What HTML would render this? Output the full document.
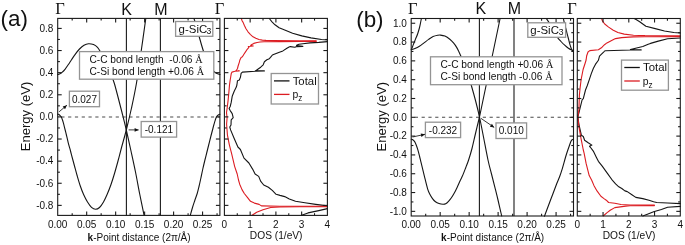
<!DOCTYPE html>
<html><head><meta charset="utf-8"><style>html,body{margin:0;padding:0;background:#fff;}svg{display:block;filter:blur(0.3px);}</style></head><body>
<svg width="685" height="245" viewBox="0 0 685 245">
<rect x="0" y="0" width="685" height="245" fill="#fff"/>
<g style="will-change:transform">
<line x1="61.3" y1="116.9" x2="219.9" y2="116.9" stroke="#4a4a4a" stroke-width="1.05" stroke-dasharray="3.2 3.6"/>
<line x1="126.4" y1="18.4" x2="126.4" y2="215.4" stroke="#1a1a1a" stroke-width="1.1" />
<line x1="160.4" y1="18.4" x2="160.4" y2="215.4" stroke="#1a1a1a" stroke-width="1.1" />
<path d="M57.7,114.2 C57.82,114.22 58.03,114.12 58.4,114.3 C58.77,114.48 59.4,114.8 59.9,115.3 C60.4,115.8 60.98,116.55 61.4,117.3 C61.82,118.05 62.08,118.9 62.4,119.8 C62.72,120.7 62.98,121.57 63.3,122.7 C63.62,123.83 63.97,125.3 64.3,126.6 C64.63,127.9 64.97,129.18 65.3,130.5 C65.63,131.82 65.82,132.48 66.3,134.5 C66.78,136.52 67.52,139.93 68.2,142.6 C68.88,145.27 69.73,148.02 70.4,150.5 C71.07,152.98 71.52,154.92 72.2,157.5 C72.88,160.08 73.68,163 74.5,166 C75.32,169 76.13,172.17 77.1,175.5 C78.07,178.83 79.22,182.83 80.3,186 C81.38,189.17 82.4,191.83 83.6,194.5 C84.8,197.17 86.18,199.87 87.5,202 C88.82,204.13 90.17,206.08 91.5,207.3 C92.83,208.52 94.17,209.27 95.5,209.3 C96.83,209.33 98.17,208.72 99.5,207.5 C100.83,206.28 102.2,204.25 103.5,202 C104.8,199.75 106.05,196.92 107.3,194 C108.55,191.08 109.8,187.92 111,184.5 C112.2,181.08 113.33,177.42 114.5,173.5 C115.67,169.58 116.85,165.25 118,161 C119.15,156.75 120.02,153.17 121.4,148 C122.78,142.83 124.62,136.67 126.3,130 C127.98,123.33 129.8,115.83 131.5,108 C133.2,100.17 134.88,92.5 136.5,83 C138.12,73.5 139.65,61.75 141.2,51 C142.75,40.25 145.03,23.92 145.8,18.5" fill="none" stroke="#151515" stroke-width="1.1" stroke-linejoin="round" stroke-linecap="round" />
<path d="M57.7,74.6 C58,74.52 58.78,74.47 59.5,74.1 C60.22,73.73 61.08,73.2 62,72.4 C62.92,71.6 63.97,70.57 65,69.3 C66.03,68.03 67.12,66.38 68.2,64.8 C69.28,63.22 70.33,61.55 71.5,59.8 C72.67,58.05 73.87,56.1 75.2,54.3 C76.53,52.5 78.03,50.52 79.5,49 C80.97,47.48 82.5,46.08 84,45.2 C85.5,44.32 86.92,43.8 88.5,43.7 C90.08,43.6 92,43.98 93.5,44.6 C95,45.22 96.37,46.23 97.5,47.4 C98.63,48.57 99.22,49.75 100.3,51.6 C101.38,53.45 102.88,56.35 104,58.5 C105.12,60.65 106,62.33 107,64.5 C108,66.67 108.8,68.42 110,71.5 C111.2,74.58 112.87,78.75 114.2,83 C115.53,87.25 116.7,92.08 118,97 C119.3,101.92 120.62,107 122,112.5 C123.38,118 124.8,123.58 126.3,130 C127.8,136.42 129.47,144 131,151 C132.53,158 134.05,164.83 135.5,172 C136.95,179.17 138.27,186.78 139.7,194 C141.13,201.22 143.37,211.75 144.1,215.3" fill="none" stroke="#151515" stroke-width="1.1" stroke-linejoin="round" stroke-linecap="round" />
<path d="M190.3,215.4 C190.67,214.08 191.75,209.98 192.5,207.5 C193.25,205.02 194.02,202.83 194.8,200.5 C195.58,198.17 196.5,195.83 197.2,193.5 C197.9,191.17 198.38,189.08 199,186.5 C199.62,183.92 200.27,180.92 200.9,178 C201.53,175.08 202.15,171.92 202.8,169 C203.45,166.08 204.13,163.25 204.8,160.5 C205.47,157.75 206.13,155.17 206.8,152.5 C207.47,149.83 208.13,147.17 208.8,144.5 C209.47,141.83 210.18,138.92 210.8,136.5 C211.42,134.08 212,131.92 212.5,130 C213,128.08 213.42,126.38 213.8,125 C214.18,123.62 214.48,122.73 214.8,121.7 C215.12,120.67 215.38,119.62 215.7,118.8 C216.02,117.98 216.37,117.37 216.7,116.8 C217.03,116.23 217.28,115.8 217.7,115.4 C218.12,115 218.83,114.6 219.2,114.4 C219.57,114.2 219.78,114.23 219.9,114.2" fill="none" stroke="#151515" stroke-width="1.1" stroke-linejoin="round" stroke-linecap="round" />
<path d="M194,18.5 C194.42,19.92 195.67,24.08 196.5,27 C197.33,29.92 197.83,31.95 199,36 C200.17,40.05 202,46.97 203.5,51.3 C205,55.63 206.58,59.05 208,62 C209.42,64.95 210.75,67.2 212,69 C213.25,70.8 214.18,71.87 215.5,72.8 C216.82,73.73 219.17,74.3 219.9,74.6" fill="none" stroke="#151515" stroke-width="1.1" stroke-linejoin="round" stroke-linecap="round" />
<path d="M269.3,18.5 L272,21.8 L275,24.8 L279.1,27.8 L284.7,30 L292.6,33.3 L301.8,35.9 L311,37.9 L321.5,39.5 L327.4,39.9" fill="none" stroke="#151515" stroke-width="1.1" stroke-linejoin="round" stroke-linecap="round" />
<path d="M327.4,41.6 L318.8,42.4 L310,42.9 L302.9,43.7 L298.9,44.3 L297.1,44.9 L296.5,45.6 L302.9,46.4 L296.6,46.6 L294.9,47.3 L290.3,46.6 L289.1,47 L286.9,48.3 L282.9,50.9 L279.4,52.2 L274.2,54.3 L272.4,55 L270.5,57.4 L269.3,58.7 L266.9,59.7 L264.4,61.7 L263.2,64.8 L260.7,67.2 L257.1,69.7 L255.2,70.9 L264.4,70.9 L255.2,71.2 L242.4,72.1 L241.1,73.4 L240.5,77 L239.3,80.1 L237.5,80.7 L236.9,85 L236.3,87.1 L234.2,91.2 L232.2,96.3 L231.2,102.4 L230.2,106.5 L229.1,108.5 L230.2,110.6 L232.2,113.6 L233.2,117.7 L231.2,119.8 L231,124.9 L229.8,127 L230.6,129.9 L234.2,138.5 L237.9,147 L240.4,149.5 L244,158.1 L248.9,163 L252.6,169.1 L255.1,174 L258.7,176.4 L260.6,181.1 L263.7,185 L268.4,187.3 L272.3,190.4 L276.1,194.3 L280,195.4 L284.7,196.6 L289.3,199 L295.5,201.3 L304.9,202.8 L315.7,204.4 L327.4,205.9" fill="none" stroke="#151515" stroke-width="1.1" stroke-linejoin="round" stroke-linecap="round" />
<path d="M327.4,208.6 L318.8,210.6 L308,212.9 L301.7,215.3" fill="none" stroke="#151515" stroke-width="1.1" stroke-linejoin="round" stroke-linecap="round" />
<path d="M241.3,18.5 L242.2,21 L243.1,22.4 L244.4,25.5 L246,28.8 L248,31.8 L250.5,34.6 L253,36.8 L255.8,38.3 L259,39.5 L262.3,40.1 L266,40.4 L272.8,40.5 L300,40.7 L316.2,40.8" fill="none" stroke="#dc1c22" stroke-width="1.1" stroke-linejoin="round" stroke-linecap="round" />
<path d="M316.2,41.4 L300,41.5 L280,41.6 L264,41.8 L260,42 L257.1,42.5 L253.8,43.4 L251.4,44.7 L250.6,45.6 L253.3,46 L248.3,46.5 L248.9,47.4 L247.2,49.3 L245.5,51.9 L243.9,54.3 L242.4,56.8 L241.1,57.4 L239.9,59.9 L239.3,62.3 L238.1,66 L237.5,68.5 L236.2,70.7 L235,71.2 L239.3,70.9 L235,71.3 L232,72.1 L231.3,73.4 L230.7,77 L230.1,80.7 L229.5,85 L228.9,92 L228.1,100.4 L227.1,108.5 L226.5,112.6 L227.1,117.7 L226.6,124 L227.4,134.8 L229.3,144.6 L231.8,154.4 L234.7,166.6 L237.2,174 L238.5,180 L239.7,184.2 L242,189.6 L244.3,193.5 L247.4,197.4 L250.5,201.3 L254.4,203.1 L259.1,204.4 L261.4,205.9 L280,206.2 L327.4,206.3" fill="none" stroke="#dc1c22" stroke-width="1.1" stroke-linejoin="round" stroke-linecap="round" />
<path d="M327.4,206.7 L300,206.8 L280,207 L270.7,207.5 L263,209.8 L256.7,212.2 L252.1,215.3" fill="none" stroke="#dc1c22" stroke-width="1.1" stroke-linejoin="round" stroke-linecap="round" />
<rect x="57.7" y="18.4" width="162.2" height="197" fill="none" stroke="#1a1a1a" stroke-width="1.1"/>
<rect x="224.4" y="18.4" width="103" height="197" fill="none" stroke="#1a1a1a" stroke-width="1.1"/>
<line x1="57.7" y1="205.38" x2="61.7" y2="205.38" stroke="#1a1a1a" stroke-width="1.1" />
<line x1="219.9" y1="205.38" x2="215.9" y2="205.38" stroke="#1a1a1a" stroke-width="1.1" />
<line x1="57.7" y1="194.32" x2="59.9" y2="194.32" stroke="#1a1a1a" stroke-width="1.1" />
<line x1="219.9" y1="194.32" x2="217.7" y2="194.32" stroke="#1a1a1a" stroke-width="1.1" />
<line x1="57.7" y1="183.26" x2="61.7" y2="183.26" stroke="#1a1a1a" stroke-width="1.1" />
<line x1="219.9" y1="183.26" x2="215.9" y2="183.26" stroke="#1a1a1a" stroke-width="1.1" />
<line x1="57.7" y1="172.2" x2="59.9" y2="172.2" stroke="#1a1a1a" stroke-width="1.1" />
<line x1="219.9" y1="172.2" x2="217.7" y2="172.2" stroke="#1a1a1a" stroke-width="1.1" />
<line x1="57.7" y1="161.14" x2="61.7" y2="161.14" stroke="#1a1a1a" stroke-width="1.1" />
<line x1="219.9" y1="161.14" x2="215.9" y2="161.14" stroke="#1a1a1a" stroke-width="1.1" />
<line x1="57.7" y1="150.08" x2="59.9" y2="150.08" stroke="#1a1a1a" stroke-width="1.1" />
<line x1="219.9" y1="150.08" x2="217.7" y2="150.08" stroke="#1a1a1a" stroke-width="1.1" />
<line x1="57.7" y1="139.02" x2="61.7" y2="139.02" stroke="#1a1a1a" stroke-width="1.1" />
<line x1="219.9" y1="139.02" x2="215.9" y2="139.02" stroke="#1a1a1a" stroke-width="1.1" />
<line x1="57.7" y1="127.96" x2="59.9" y2="127.96" stroke="#1a1a1a" stroke-width="1.1" />
<line x1="219.9" y1="127.96" x2="217.7" y2="127.96" stroke="#1a1a1a" stroke-width="1.1" />
<line x1="57.7" y1="116.9" x2="61.7" y2="116.9" stroke="#1a1a1a" stroke-width="1.1" />
<line x1="219.9" y1="116.9" x2="215.9" y2="116.9" stroke="#1a1a1a" stroke-width="1.1" />
<line x1="57.7" y1="105.84" x2="59.9" y2="105.84" stroke="#1a1a1a" stroke-width="1.1" />
<line x1="219.9" y1="105.84" x2="217.7" y2="105.84" stroke="#1a1a1a" stroke-width="1.1" />
<line x1="57.7" y1="94.78" x2="61.7" y2="94.78" stroke="#1a1a1a" stroke-width="1.1" />
<line x1="219.9" y1="94.78" x2="215.9" y2="94.78" stroke="#1a1a1a" stroke-width="1.1" />
<line x1="57.7" y1="83.72" x2="59.9" y2="83.72" stroke="#1a1a1a" stroke-width="1.1" />
<line x1="219.9" y1="83.72" x2="217.7" y2="83.72" stroke="#1a1a1a" stroke-width="1.1" />
<line x1="57.7" y1="72.66" x2="61.7" y2="72.66" stroke="#1a1a1a" stroke-width="1.1" />
<line x1="219.9" y1="72.66" x2="215.9" y2="72.66" stroke="#1a1a1a" stroke-width="1.1" />
<line x1="57.7" y1="61.6" x2="59.9" y2="61.6" stroke="#1a1a1a" stroke-width="1.1" />
<line x1="219.9" y1="61.6" x2="217.7" y2="61.6" stroke="#1a1a1a" stroke-width="1.1" />
<line x1="57.7" y1="50.54" x2="61.7" y2="50.54" stroke="#1a1a1a" stroke-width="1.1" />
<line x1="219.9" y1="50.54" x2="215.9" y2="50.54" stroke="#1a1a1a" stroke-width="1.1" />
<line x1="57.7" y1="39.48" x2="59.9" y2="39.48" stroke="#1a1a1a" stroke-width="1.1" />
<line x1="219.9" y1="39.48" x2="217.7" y2="39.48" stroke="#1a1a1a" stroke-width="1.1" />
<line x1="57.7" y1="28.42" x2="61.7" y2="28.42" stroke="#1a1a1a" stroke-width="1.1" />
<line x1="219.9" y1="28.42" x2="215.9" y2="28.42" stroke="#1a1a1a" stroke-width="1.1" />
<line x1="224.4" y1="205.38" x2="228.4" y2="205.38" stroke="#1a1a1a" stroke-width="1.1" />
<line x1="327.4" y1="205.38" x2="323.4" y2="205.38" stroke="#1a1a1a" stroke-width="1.1" />
<line x1="224.4" y1="194.32" x2="226.6" y2="194.32" stroke="#1a1a1a" stroke-width="1.1" />
<line x1="327.4" y1="194.32" x2="325.2" y2="194.32" stroke="#1a1a1a" stroke-width="1.1" />
<line x1="224.4" y1="183.26" x2="228.4" y2="183.26" stroke="#1a1a1a" stroke-width="1.1" />
<line x1="327.4" y1="183.26" x2="323.4" y2="183.26" stroke="#1a1a1a" stroke-width="1.1" />
<line x1="224.4" y1="172.2" x2="226.6" y2="172.2" stroke="#1a1a1a" stroke-width="1.1" />
<line x1="327.4" y1="172.2" x2="325.2" y2="172.2" stroke="#1a1a1a" stroke-width="1.1" />
<line x1="224.4" y1="161.14" x2="228.4" y2="161.14" stroke="#1a1a1a" stroke-width="1.1" />
<line x1="327.4" y1="161.14" x2="323.4" y2="161.14" stroke="#1a1a1a" stroke-width="1.1" />
<line x1="224.4" y1="150.08" x2="226.6" y2="150.08" stroke="#1a1a1a" stroke-width="1.1" />
<line x1="327.4" y1="150.08" x2="325.2" y2="150.08" stroke="#1a1a1a" stroke-width="1.1" />
<line x1="224.4" y1="139.02" x2="228.4" y2="139.02" stroke="#1a1a1a" stroke-width="1.1" />
<line x1="327.4" y1="139.02" x2="323.4" y2="139.02" stroke="#1a1a1a" stroke-width="1.1" />
<line x1="224.4" y1="127.96" x2="226.6" y2="127.96" stroke="#1a1a1a" stroke-width="1.1" />
<line x1="327.4" y1="127.96" x2="325.2" y2="127.96" stroke="#1a1a1a" stroke-width="1.1" />
<line x1="224.4" y1="116.9" x2="228.4" y2="116.9" stroke="#1a1a1a" stroke-width="1.1" />
<line x1="327.4" y1="116.9" x2="323.4" y2="116.9" stroke="#1a1a1a" stroke-width="1.1" />
<line x1="224.4" y1="105.84" x2="226.6" y2="105.84" stroke="#1a1a1a" stroke-width="1.1" />
<line x1="327.4" y1="105.84" x2="325.2" y2="105.84" stroke="#1a1a1a" stroke-width="1.1" />
<line x1="224.4" y1="94.78" x2="228.4" y2="94.78" stroke="#1a1a1a" stroke-width="1.1" />
<line x1="327.4" y1="94.78" x2="323.4" y2="94.78" stroke="#1a1a1a" stroke-width="1.1" />
<line x1="224.4" y1="83.72" x2="226.6" y2="83.72" stroke="#1a1a1a" stroke-width="1.1" />
<line x1="327.4" y1="83.72" x2="325.2" y2="83.72" stroke="#1a1a1a" stroke-width="1.1" />
<line x1="224.4" y1="72.66" x2="228.4" y2="72.66" stroke="#1a1a1a" stroke-width="1.1" />
<line x1="327.4" y1="72.66" x2="323.4" y2="72.66" stroke="#1a1a1a" stroke-width="1.1" />
<line x1="224.4" y1="61.6" x2="226.6" y2="61.6" stroke="#1a1a1a" stroke-width="1.1" />
<line x1="327.4" y1="61.6" x2="325.2" y2="61.6" stroke="#1a1a1a" stroke-width="1.1" />
<line x1="224.4" y1="50.54" x2="228.4" y2="50.54" stroke="#1a1a1a" stroke-width="1.1" />
<line x1="327.4" y1="50.54" x2="323.4" y2="50.54" stroke="#1a1a1a" stroke-width="1.1" />
<line x1="224.4" y1="39.48" x2="226.6" y2="39.48" stroke="#1a1a1a" stroke-width="1.1" />
<line x1="327.4" y1="39.48" x2="325.2" y2="39.48" stroke="#1a1a1a" stroke-width="1.1" />
<line x1="224.4" y1="28.42" x2="228.4" y2="28.42" stroke="#1a1a1a" stroke-width="1.1" />
<line x1="327.4" y1="28.42" x2="323.4" y2="28.42" stroke="#1a1a1a" stroke-width="1.1" />
<line x1="86.68" y1="215.4" x2="86.68" y2="211.4" stroke="#1a1a1a" stroke-width="1.1" />
<line x1="86.68" y1="18.4" x2="86.68" y2="22.4" stroke="#1a1a1a" stroke-width="1.1" />
<line x1="115.65" y1="215.4" x2="115.65" y2="211.4" stroke="#1a1a1a" stroke-width="1.1" />
<line x1="115.65" y1="18.4" x2="115.65" y2="22.4" stroke="#1a1a1a" stroke-width="1.1" />
<line x1="144.62" y1="215.4" x2="144.62" y2="211.4" stroke="#1a1a1a" stroke-width="1.1" />
<line x1="144.62" y1="18.4" x2="144.62" y2="22.4" stroke="#1a1a1a" stroke-width="1.1" />
<line x1="173.6" y1="215.4" x2="173.6" y2="211.4" stroke="#1a1a1a" stroke-width="1.1" />
<line x1="173.6" y1="18.4" x2="173.6" y2="22.4" stroke="#1a1a1a" stroke-width="1.1" />
<line x1="202.57" y1="215.4" x2="202.57" y2="211.4" stroke="#1a1a1a" stroke-width="1.1" />
<line x1="202.57" y1="18.4" x2="202.57" y2="22.4" stroke="#1a1a1a" stroke-width="1.1" />
<line x1="72.19" y1="215.4" x2="72.19" y2="213.2" stroke="#1a1a1a" stroke-width="1.1" />
<line x1="72.19" y1="18.4" x2="72.19" y2="20.6" stroke="#1a1a1a" stroke-width="1.1" />
<line x1="101.16" y1="215.4" x2="101.16" y2="213.2" stroke="#1a1a1a" stroke-width="1.1" />
<line x1="101.16" y1="18.4" x2="101.16" y2="20.6" stroke="#1a1a1a" stroke-width="1.1" />
<line x1="130.14" y1="215.4" x2="130.14" y2="213.2" stroke="#1a1a1a" stroke-width="1.1" />
<line x1="130.14" y1="18.4" x2="130.14" y2="20.6" stroke="#1a1a1a" stroke-width="1.1" />
<line x1="159.11" y1="215.4" x2="159.11" y2="213.2" stroke="#1a1a1a" stroke-width="1.1" />
<line x1="159.11" y1="18.4" x2="159.11" y2="20.6" stroke="#1a1a1a" stroke-width="1.1" />
<line x1="188.09" y1="215.4" x2="188.09" y2="213.2" stroke="#1a1a1a" stroke-width="1.1" />
<line x1="188.09" y1="18.4" x2="188.09" y2="20.6" stroke="#1a1a1a" stroke-width="1.1" />
<line x1="217.06" y1="215.4" x2="217.06" y2="213.2" stroke="#1a1a1a" stroke-width="1.1" />
<line x1="217.06" y1="18.4" x2="217.06" y2="20.6" stroke="#1a1a1a" stroke-width="1.1" />
<line x1="250.15" y1="215.4" x2="250.15" y2="211.4" stroke="#1a1a1a" stroke-width="1.1" />
<line x1="250.15" y1="18.4" x2="250.15" y2="22.4" stroke="#1a1a1a" stroke-width="1.1" />
<line x1="275.9" y1="215.4" x2="275.9" y2="211.4" stroke="#1a1a1a" stroke-width="1.1" />
<line x1="275.9" y1="18.4" x2="275.9" y2="22.4" stroke="#1a1a1a" stroke-width="1.1" />
<line x1="301.65" y1="215.4" x2="301.65" y2="211.4" stroke="#1a1a1a" stroke-width="1.1" />
<line x1="301.65" y1="18.4" x2="301.65" y2="22.4" stroke="#1a1a1a" stroke-width="1.1" />
<line x1="237.28" y1="215.4" x2="237.28" y2="213.2" stroke="#1a1a1a" stroke-width="1.1" />
<line x1="237.28" y1="18.4" x2="237.28" y2="20.6" stroke="#1a1a1a" stroke-width="1.1" />
<line x1="263.02" y1="215.4" x2="263.02" y2="213.2" stroke="#1a1a1a" stroke-width="1.1" />
<line x1="263.02" y1="18.4" x2="263.02" y2="20.6" stroke="#1a1a1a" stroke-width="1.1" />
<line x1="288.77" y1="215.4" x2="288.77" y2="213.2" stroke="#1a1a1a" stroke-width="1.1" />
<line x1="288.77" y1="18.4" x2="288.77" y2="20.6" stroke="#1a1a1a" stroke-width="1.1" />
<line x1="314.52" y1="215.4" x2="314.52" y2="213.2" stroke="#1a1a1a" stroke-width="1.1" />
<line x1="314.52" y1="18.4" x2="314.52" y2="20.6" stroke="#1a1a1a" stroke-width="1.1" />
<text x="53.4" y="208.68" font-size="10" text-anchor="end" font-family='"Liberation Sans", sans-serif' fill="#111" >-0.8</text>
<text x="53.4" y="186.56" font-size="10" text-anchor="end" font-family='"Liberation Sans", sans-serif' fill="#111" >-0.6</text>
<text x="53.4" y="164.44" font-size="10" text-anchor="end" font-family='"Liberation Sans", sans-serif' fill="#111" >-0.4</text>
<text x="53.4" y="142.32" font-size="10" text-anchor="end" font-family='"Liberation Sans", sans-serif' fill="#111" >-0.2</text>
<text x="53.4" y="120.2" font-size="10" text-anchor="end" font-family='"Liberation Sans", sans-serif' fill="#111" >0.0</text>
<text x="53.4" y="98.08" font-size="10" text-anchor="end" font-family='"Liberation Sans", sans-serif' fill="#111" >0.2</text>
<text x="53.4" y="75.96" font-size="10" text-anchor="end" font-family='"Liberation Sans", sans-serif' fill="#111" >0.4</text>
<text x="53.4" y="53.84" font-size="10" text-anchor="end" font-family='"Liberation Sans", sans-serif' fill="#111" >0.6</text>
<text x="53.4" y="31.72" font-size="10" text-anchor="end" font-family='"Liberation Sans", sans-serif' fill="#111" >0.8</text>
<text x="57.7" y="227.9" font-size="10" text-anchor="middle" font-family='"Liberation Sans", sans-serif' fill="#111" >0.00</text>
<text x="86.68" y="227.9" font-size="10" text-anchor="middle" font-family='"Liberation Sans", sans-serif' fill="#111" >0.05</text>
<text x="115.65" y="227.9" font-size="10" text-anchor="middle" font-family='"Liberation Sans", sans-serif' fill="#111" >0.10</text>
<text x="144.62" y="227.9" font-size="10" text-anchor="middle" font-family='"Liberation Sans", sans-serif' fill="#111" >0.15</text>
<text x="173.6" y="227.9" font-size="10" text-anchor="middle" font-family='"Liberation Sans", sans-serif' fill="#111" >0.20</text>
<text x="202.57" y="227.9" font-size="10" text-anchor="middle" font-family='"Liberation Sans", sans-serif' fill="#111" >0.25</text>
<text x="224.4" y="227.9" font-size="10" text-anchor="middle" font-family='"Liberation Sans", sans-serif' fill="#111" >0</text>
<text x="250.15" y="227.9" font-size="10" text-anchor="middle" font-family='"Liberation Sans", sans-serif' fill="#111" >1</text>
<text x="275.9" y="227.9" font-size="10" text-anchor="middle" font-family='"Liberation Sans", sans-serif' fill="#111" >2</text>
<text x="301.65" y="227.9" font-size="10" text-anchor="middle" font-family='"Liberation Sans", sans-serif' fill="#111" >3</text>
<text x="327.4" y="227.9" font-size="10" text-anchor="middle" font-family='"Liberation Sans", sans-serif' fill="#111" >4</text>
<text x="139.1" y="240.5" font-size="10" text-anchor="middle" font-family='"Liberation Sans", sans-serif' fill="#111"><tspan font-weight="bold">k</tspan>-Point distance (2&#960;/&#197;)</text>
<text x="276.2" y="238.9" font-size="10.2" text-anchor="middle" font-family='"Liberation Sans", sans-serif' fill="#111" >DOS (1/eV)</text>
<text transform="translate(30.2,116.4) rotate(-90)" font-size="12" text-anchor="middle" textLength="69.5" lengthAdjust="spacingAndGlyphs" font-family='"Liberation Sans", sans-serif' fill="#111">Energy (eV)</text>
<text x="0.6" y="25.6" font-size="22.4" text-anchor="start" font-family='"Liberation Sans", sans-serif' fill="#111" >(a)</text>
<text x="59.9" y="13.9" font-size="16.5" text-anchor="middle" font-family='"Liberation Serif", serif' fill="#111" >&#915;</text>
<text x="219.6" y="13.9" font-size="16.5" text-anchor="middle" font-family='"Liberation Serif", serif' fill="#111" >&#915;</text>
<text x="126.6" y="14.5" font-size="16" text-anchor="middle" font-family='"Liberation Sans", sans-serif' fill="#111" >K</text>
<text x="160.9" y="14.5" font-size="16" text-anchor="middle" font-family='"Liberation Sans", sans-serif' fill="#111" >M</text>
<rect x="79.5" y="51.6" width="134.3" height="27.6" fill="#fff" stroke="#949494" stroke-width="1.3" />
<text x="89.4" y="62.6" font-size="10.2" font-family='"Liberation Sans", sans-serif' fill="#111" xml:space="preserve">C-C bond length  -0.06 <tspan font-family='"Liberation Serif", serif'>&#197;</tspan></text>
<text x="89.4" y="75" font-size="10.2" font-family='"Liberation Sans", sans-serif' fill="#111" xml:space="preserve">C-Si bond length +0.06 <tspan font-family='"Liberation Serif", serif'>&#197;</tspan></text>
<rect x="69.4" y="91.2" width="30.1" height="15.5" fill="#fff" stroke="#949494" stroke-width="1.3" />
<text x="84.45" y="102.55" font-size="10" text-anchor="middle" font-family='"Liberation Sans", sans-serif' fill="#111">0.027</text>
<rect x="141.2" y="121.5" width="35.4" height="15.6" fill="#fff" stroke="#949494" stroke-width="1.3" />
<text x="158.9" y="132.9" font-size="10" text-anchor="middle" font-family='"Liberation Sans", sans-serif' fill="#111">-0.121</text>
<rect x="175.6" y="21.5" width="37.2" height="14.8" fill="#fff" stroke="#949494" stroke-width="1.3" />
<text x="178.6" y="32.9" font-size="10.3" textLength="28.6" lengthAdjust="spacingAndGlyphs" font-family='"Liberation Sans", sans-serif' fill="#111">g-SiC</text>
<text x="206.6" y="34.4" font-size="8.6" font-family='"Liberation Sans", sans-serif' fill="#111">3</text>
<line x1="59.1" y1="111.8" x2="66.9" y2="105.2" stroke="#222" stroke-width="0.9" />
<path d="M66.9,105.2 L65.01,109.16 L62.68,106.41 Z" fill="#111"/>
<line x1="128.6" y1="129.9" x2="138.6" y2="129.9" stroke="#222" stroke-width="0.9" />
<path d="M138.6,129.9 L134.6,131.7 L134.6,128.1 Z" fill="#111"/>
<rect x="271.2" y="73.5" width="47.3" height="30.5" fill="#fff" stroke="#949494" stroke-width="1.3" />
<line x1="274" y1="80.9" x2="289.5" y2="80.9" stroke="#111" stroke-width="1.3" />
<line x1="274" y1="94.4" x2="289.5" y2="94.4" stroke="#dc1c22" stroke-width="1.3" />
<text x="292.7" y="84.6" font-size="10.4" text-anchor="start" font-family='"Liberation Sans", sans-serif' fill="#111" textLength="24" lengthAdjust="spacingAndGlyphs">Total</text>
<text x="292.4" y="98.3" font-size="10.4" font-family='"Liberation Sans", sans-serif' fill="#111">p<tspan font-size="8.2" dy="3.1">z</tspan></text>
<line x1="414.8" y1="117.3" x2="573.5" y2="117.3" stroke="#4a4a4a" stroke-width="1.05" stroke-dasharray="3.2 3.6"/>
<line x1="479.4" y1="18.5" x2="479.4" y2="216" stroke="#1a1a1a" stroke-width="1.1" />
<line x1="514" y1="18.5" x2="514" y2="216" stroke="#1a1a1a" stroke-width="1.1" />
<path d="M411.3,49.6 C411.47,49.23 412,48.15 412.3,47.4 C412.6,46.65 412.58,46.43 413.1,45.1 C413.62,43.77 414.63,41.3 415.4,39.4 C416.17,37.5 417.03,35.6 417.7,33.7 C418.37,31.8 418.93,29.78 419.4,28 C419.87,26.22 420.17,24.58 420.5,23 C420.83,21.42 421.25,19.25 421.4,18.5" fill="none" stroke="#151515" stroke-width="1.1" stroke-linejoin="round" stroke-linecap="round" />
<path d="M411.3,49.7 C411.9,49.52 413.55,49.17 414.9,48.6 C416.25,48.03 417.88,47.25 419.4,46.3 C420.92,45.35 422.47,44.05 424,42.9 C425.53,41.75 427.08,40.45 428.6,39.4 C430.12,38.35 431.58,37.28 433.1,36.6 C434.62,35.92 436.47,35.55 437.7,35.3 C438.93,35.05 439.3,34.97 440.5,35.1 C441.7,35.23 443.35,35.42 444.9,36.1 C446.45,36.78 448.37,38.07 449.8,39.2 C451.23,40.33 452.38,41.58 453.5,42.9 C454.62,44.22 455.58,45.58 456.5,47.1 C457.42,48.62 458.28,50.52 459,52 C459.72,53.48 459.97,54 460.8,56 C461.63,58 462.88,61.17 464,64 C465.12,66.83 466.3,69.5 467.5,73 C468.7,76.5 469.87,80.42 471.2,85 C472.53,89.58 474.12,95.17 475.5,100.5 C476.88,105.83 478.17,110.92 479.5,117 C480.83,123.08 482.08,129.83 483.5,137 C484.92,144.17 486.67,153.83 488,160 C489.33,166.17 490.35,169.43 491.5,174 C492.65,178.57 493.82,183.07 494.9,187.4 C495.98,191.73 496.87,195.23 498,200 C499.13,204.77 501.08,213.33 501.7,216" fill="none" stroke="#151515" stroke-width="1.1" stroke-linejoin="round" stroke-linecap="round" />
<path d="M411.3,139.2 C411.55,139.28 412.27,139.33 412.8,139.7 C413.33,140.07 413.93,140.52 414.5,141.4 C415.07,142.28 415.65,143.63 416.2,145 C416.75,146.37 417.25,147.77 417.8,149.6 C418.35,151.43 418.95,153.82 419.5,156 C420.05,158.18 420.3,159.4 421.1,162.7 C421.9,166 423.22,171.45 424.3,175.8 C425.38,180.15 426.65,185.68 427.6,188.8 C428.55,191.92 429.18,192.87 430,194.5 C430.82,196.13 431.58,197.38 432.5,198.6 C433.42,199.82 434.42,200.97 435.5,201.8 C436.58,202.63 437.75,203.18 439,203.6 C440.25,204.02 441.88,204.27 443,204.3 C444.12,204.33 444.78,204.3 445.7,203.8 C446.62,203.3 447.55,202.32 448.5,201.3 C449.45,200.28 450.43,199.08 451.4,197.7 C452.37,196.32 453.35,194.72 454.3,193 C455.25,191.28 456.15,189.4 457.1,187.4 C458.05,185.4 459.03,183.08 460,181 C460.97,178.92 461.93,177.15 462.9,174.9 C463.87,172.65 464.85,169.98 465.8,167.5 C466.75,165.02 467.57,163.17 468.6,160 C469.63,156.83 470.85,152.92 472,148.5 C473.15,144.08 474.25,138.75 475.5,133.5 C476.75,128.25 478.83,119.75 479.5,117" fill="none" stroke="#151515" stroke-width="1.1" stroke-linejoin="round" stroke-linecap="round" />
<path d="M479.5,117 L500.1,18.5" fill="none" stroke="#151515" stroke-width="1.1" stroke-linejoin="round" stroke-linecap="round" />
<path d="M544.5,216 C544.6,215.75 543.98,217.45 545.1,214.5 C546.22,211.55 549.28,203.38 551.2,198.3 C553.12,193.22 555.22,187.55 556.6,184 C557.98,180.45 558.6,179.4 559.5,177 C560.4,174.6 560.98,172.93 562,169.6 C563.02,166.27 564.68,160.1 565.6,157 C566.52,153.9 566.9,152.8 567.5,151 C568.1,149.2 568.62,147.82 569.2,146.2 C569.78,144.58 570.48,142.4 571,141.3 C571.52,140.2 571.88,139.97 572.3,139.6 C572.72,139.23 573.3,139.18 573.5,139.1" fill="none" stroke="#151515" stroke-width="1.1" stroke-linejoin="round" stroke-linecap="round" />
<path d="M546.3,18.5 C546.73,19.13 547.78,20.38 548.9,22.3 C550.02,24.22 551.6,27.52 553,30 C554.4,32.48 555.97,35.28 557.3,37.2 C558.63,39.12 559.77,40.17 561,41.5 C562.23,42.83 563.47,44.07 564.7,45.2 C565.93,46.33 567.22,47.48 568.4,48.3 C569.58,49.12 570.95,49.73 571.8,50.1 C572.65,50.47 573.22,50.43 573.5,50.5" fill="none" stroke="#151515" stroke-width="1.1" stroke-linejoin="round" stroke-linecap="round" />
<path d="M563.4,18.5 C563.58,19.33 564.08,21.8 564.5,23.5 C564.92,25.2 565.47,27.02 565.9,28.7 C566.33,30.38 566.68,31.97 567.1,33.6 C567.52,35.23 567.98,36.87 568.4,38.5 C568.82,40.13 569.1,41.67 569.6,43.4 C570.1,45.13 570.95,47.73 571.4,48.9 C571.85,50.07 571.95,50.12 572.3,50.4 C572.65,50.68 573.3,50.57 573.5,50.6" fill="none" stroke="#151515" stroke-width="1.1" stroke-linejoin="round" stroke-linecap="round" />
<path d="M634.2,18.5 L636.5,19.8 L639.7,21.7 L645.9,26.3 L655.2,28.6 L664.5,31 L673.8,32.5 L680.3,33" fill="none" stroke="#151515" stroke-width="1.1" stroke-linejoin="round" stroke-linecap="round" />
<path d="M680.3,38 L667.6,38.7 L658.3,41.1 L650.5,43.4 L648.2,44.2 L642.8,46.5 L636.6,48 L630.4,49.6 L641.2,49.9 L630.4,50 L605.5,50.8 L604.6,51 L603.6,52.1 L601.5,54.2 L599.5,56.2 L598.4,60.3 L595.4,64.4 L593.3,68.5 L591.3,73.6 L589.3,79.7 L587.2,85.8 L585.5,90 L583.3,98.6 L582.1,99.8 L579.7,109.6 L577.9,116.9 L578.9,124.3 L581.4,135.3 L583.3,136.5 L584.6,140.2 L588.2,142.7 L591.9,145.1 L589.5,146.3 L590.2,147 L593.3,151.1 L596.3,157.2 L598.4,161.3 L602.4,166.4 L607.6,173.6 L612.7,180.7 L615.6,183.9 L618.8,186.8 L621.8,188.5 L624.9,190.9 L627.3,191.6 L631.9,194.7 L635.8,197.4 L642.8,198.6 L649,200.2 L653.6,201.7 L656.7,202.5 L667.6,203 L680.3,203.6" fill="none" stroke="#151515" stroke-width="1.1" stroke-linejoin="round" stroke-linecap="round" />
<path d="M680.3,206.4 L667.6,207.2 L661.4,209.5 L653.6,211.8 L647.4,214.2 L642.8,216" fill="none" stroke="#151515" stroke-width="1.1" stroke-linejoin="round" stroke-linecap="round" />
<path d="M601.6,18.5 L602.4,20.9 L604.7,24 L608.6,27.1 L613.3,30.2 L617.9,32.5 L624.2,34.1 L633.5,35.2 L645,35.6 L680.3,35.7" fill="none" stroke="#dc1c22" stroke-width="1.1" stroke-linejoin="round" stroke-linecap="round" />
<path d="M680.3,36.6 L645,36.8 L633.5,36.9 L628.9,37.1 L621.6,37.6 L615.5,38.6 L613.1,39.8 L606.9,42.9 L604.5,44.7 L601.4,47.8 L598.4,49.8 L589.8,50.6 L588,52 L586.7,55.7 L586.1,60 L585.2,63 L583.1,69.5 L581.1,79.7 L580.1,87.9 L579.4,95 L578.9,109.6 L577.9,116.9 L578.9,126.7 L580.9,137.8 L583.3,150 L584.1,153.2 L586.1,163.4 L589.2,175.6 L591.6,180 L593.9,185.4 L597,190.9 L600.9,196.3 L604,198.6 L606.3,200.2 L608.6,202.5 L614.8,203.3 L621,204.5 L630,205 L654.4,205.1" fill="none" stroke="#dc1c22" stroke-width="1.1" stroke-linejoin="round" stroke-linecap="round" />
<path d="M654.4,205.6 L630,205.8 L625.7,206.1 L614.8,207.6 L610.2,210.3 L607.1,212.6 L603.2,216" fill="none" stroke="#dc1c22" stroke-width="1.1" stroke-linejoin="round" stroke-linecap="round" />
<rect x="411.2" y="18.5" width="162.3" height="197.5" fill="none" stroke="#1a1a1a" stroke-width="1.1"/>
<rect x="577.3" y="18.5" width="103" height="197.5" fill="none" stroke="#1a1a1a" stroke-width="1.1"/>
<line x1="411.2" y1="211.35" x2="415.2" y2="211.35" stroke="#1a1a1a" stroke-width="1.1" />
<line x1="573.5" y1="211.35" x2="569.5" y2="211.35" stroke="#1a1a1a" stroke-width="1.1" />
<line x1="411.2" y1="201.94" x2="413.4" y2="201.94" stroke="#1a1a1a" stroke-width="1.1" />
<line x1="573.5" y1="201.94" x2="571.3" y2="201.94" stroke="#1a1a1a" stroke-width="1.1" />
<line x1="411.2" y1="192.54" x2="415.2" y2="192.54" stroke="#1a1a1a" stroke-width="1.1" />
<line x1="573.5" y1="192.54" x2="569.5" y2="192.54" stroke="#1a1a1a" stroke-width="1.1" />
<line x1="411.2" y1="183.13" x2="413.4" y2="183.13" stroke="#1a1a1a" stroke-width="1.1" />
<line x1="573.5" y1="183.13" x2="571.3" y2="183.13" stroke="#1a1a1a" stroke-width="1.1" />
<line x1="411.2" y1="173.73" x2="415.2" y2="173.73" stroke="#1a1a1a" stroke-width="1.1" />
<line x1="573.5" y1="173.73" x2="569.5" y2="173.73" stroke="#1a1a1a" stroke-width="1.1" />
<line x1="411.2" y1="164.32" x2="413.4" y2="164.32" stroke="#1a1a1a" stroke-width="1.1" />
<line x1="573.5" y1="164.32" x2="571.3" y2="164.32" stroke="#1a1a1a" stroke-width="1.1" />
<line x1="411.2" y1="154.92" x2="415.2" y2="154.92" stroke="#1a1a1a" stroke-width="1.1" />
<line x1="573.5" y1="154.92" x2="569.5" y2="154.92" stroke="#1a1a1a" stroke-width="1.1" />
<line x1="411.2" y1="145.51" x2="413.4" y2="145.51" stroke="#1a1a1a" stroke-width="1.1" />
<line x1="573.5" y1="145.51" x2="571.3" y2="145.51" stroke="#1a1a1a" stroke-width="1.1" />
<line x1="411.2" y1="136.11" x2="415.2" y2="136.11" stroke="#1a1a1a" stroke-width="1.1" />
<line x1="573.5" y1="136.11" x2="569.5" y2="136.11" stroke="#1a1a1a" stroke-width="1.1" />
<line x1="411.2" y1="126.7" x2="413.4" y2="126.7" stroke="#1a1a1a" stroke-width="1.1" />
<line x1="573.5" y1="126.7" x2="571.3" y2="126.7" stroke="#1a1a1a" stroke-width="1.1" />
<line x1="411.2" y1="117.3" x2="415.2" y2="117.3" stroke="#1a1a1a" stroke-width="1.1" />
<line x1="573.5" y1="117.3" x2="569.5" y2="117.3" stroke="#1a1a1a" stroke-width="1.1" />
<line x1="411.2" y1="107.89" x2="413.4" y2="107.89" stroke="#1a1a1a" stroke-width="1.1" />
<line x1="573.5" y1="107.89" x2="571.3" y2="107.89" stroke="#1a1a1a" stroke-width="1.1" />
<line x1="411.2" y1="98.49" x2="415.2" y2="98.49" stroke="#1a1a1a" stroke-width="1.1" />
<line x1="573.5" y1="98.49" x2="569.5" y2="98.49" stroke="#1a1a1a" stroke-width="1.1" />
<line x1="411.2" y1="89.08" x2="413.4" y2="89.08" stroke="#1a1a1a" stroke-width="1.1" />
<line x1="573.5" y1="89.08" x2="571.3" y2="89.08" stroke="#1a1a1a" stroke-width="1.1" />
<line x1="411.2" y1="79.68" x2="415.2" y2="79.68" stroke="#1a1a1a" stroke-width="1.1" />
<line x1="573.5" y1="79.68" x2="569.5" y2="79.68" stroke="#1a1a1a" stroke-width="1.1" />
<line x1="411.2" y1="70.28" x2="413.4" y2="70.28" stroke="#1a1a1a" stroke-width="1.1" />
<line x1="573.5" y1="70.28" x2="571.3" y2="70.28" stroke="#1a1a1a" stroke-width="1.1" />
<line x1="411.2" y1="60.87" x2="415.2" y2="60.87" stroke="#1a1a1a" stroke-width="1.1" />
<line x1="573.5" y1="60.87" x2="569.5" y2="60.87" stroke="#1a1a1a" stroke-width="1.1" />
<line x1="411.2" y1="51.46" x2="413.4" y2="51.46" stroke="#1a1a1a" stroke-width="1.1" />
<line x1="573.5" y1="51.46" x2="571.3" y2="51.46" stroke="#1a1a1a" stroke-width="1.1" />
<line x1="411.2" y1="42.06" x2="415.2" y2="42.06" stroke="#1a1a1a" stroke-width="1.1" />
<line x1="573.5" y1="42.06" x2="569.5" y2="42.06" stroke="#1a1a1a" stroke-width="1.1" />
<line x1="411.2" y1="32.66" x2="413.4" y2="32.66" stroke="#1a1a1a" stroke-width="1.1" />
<line x1="573.5" y1="32.66" x2="571.3" y2="32.66" stroke="#1a1a1a" stroke-width="1.1" />
<line x1="411.2" y1="23.25" x2="415.2" y2="23.25" stroke="#1a1a1a" stroke-width="1.1" />
<line x1="573.5" y1="23.25" x2="569.5" y2="23.25" stroke="#1a1a1a" stroke-width="1.1" />
<line x1="577.3" y1="211.35" x2="581.3" y2="211.35" stroke="#1a1a1a" stroke-width="1.1" />
<line x1="680.3" y1="211.35" x2="676.3" y2="211.35" stroke="#1a1a1a" stroke-width="1.1" />
<line x1="577.3" y1="201.94" x2="579.5" y2="201.94" stroke="#1a1a1a" stroke-width="1.1" />
<line x1="680.3" y1="201.94" x2="678.1" y2="201.94" stroke="#1a1a1a" stroke-width="1.1" />
<line x1="577.3" y1="192.54" x2="581.3" y2="192.54" stroke="#1a1a1a" stroke-width="1.1" />
<line x1="680.3" y1="192.54" x2="676.3" y2="192.54" stroke="#1a1a1a" stroke-width="1.1" />
<line x1="577.3" y1="183.13" x2="579.5" y2="183.13" stroke="#1a1a1a" stroke-width="1.1" />
<line x1="680.3" y1="183.13" x2="678.1" y2="183.13" stroke="#1a1a1a" stroke-width="1.1" />
<line x1="577.3" y1="173.73" x2="581.3" y2="173.73" stroke="#1a1a1a" stroke-width="1.1" />
<line x1="680.3" y1="173.73" x2="676.3" y2="173.73" stroke="#1a1a1a" stroke-width="1.1" />
<line x1="577.3" y1="164.32" x2="579.5" y2="164.32" stroke="#1a1a1a" stroke-width="1.1" />
<line x1="680.3" y1="164.32" x2="678.1" y2="164.32" stroke="#1a1a1a" stroke-width="1.1" />
<line x1="577.3" y1="154.92" x2="581.3" y2="154.92" stroke="#1a1a1a" stroke-width="1.1" />
<line x1="680.3" y1="154.92" x2="676.3" y2="154.92" stroke="#1a1a1a" stroke-width="1.1" />
<line x1="577.3" y1="145.51" x2="579.5" y2="145.51" stroke="#1a1a1a" stroke-width="1.1" />
<line x1="680.3" y1="145.51" x2="678.1" y2="145.51" stroke="#1a1a1a" stroke-width="1.1" />
<line x1="577.3" y1="136.11" x2="581.3" y2="136.11" stroke="#1a1a1a" stroke-width="1.1" />
<line x1="680.3" y1="136.11" x2="676.3" y2="136.11" stroke="#1a1a1a" stroke-width="1.1" />
<line x1="577.3" y1="126.7" x2="579.5" y2="126.7" stroke="#1a1a1a" stroke-width="1.1" />
<line x1="680.3" y1="126.7" x2="678.1" y2="126.7" stroke="#1a1a1a" stroke-width="1.1" />
<line x1="577.3" y1="117.3" x2="581.3" y2="117.3" stroke="#1a1a1a" stroke-width="1.1" />
<line x1="680.3" y1="117.3" x2="676.3" y2="117.3" stroke="#1a1a1a" stroke-width="1.1" />
<line x1="577.3" y1="107.89" x2="579.5" y2="107.89" stroke="#1a1a1a" stroke-width="1.1" />
<line x1="680.3" y1="107.89" x2="678.1" y2="107.89" stroke="#1a1a1a" stroke-width="1.1" />
<line x1="577.3" y1="98.49" x2="581.3" y2="98.49" stroke="#1a1a1a" stroke-width="1.1" />
<line x1="680.3" y1="98.49" x2="676.3" y2="98.49" stroke="#1a1a1a" stroke-width="1.1" />
<line x1="577.3" y1="89.08" x2="579.5" y2="89.08" stroke="#1a1a1a" stroke-width="1.1" />
<line x1="680.3" y1="89.08" x2="678.1" y2="89.08" stroke="#1a1a1a" stroke-width="1.1" />
<line x1="577.3" y1="79.68" x2="581.3" y2="79.68" stroke="#1a1a1a" stroke-width="1.1" />
<line x1="680.3" y1="79.68" x2="676.3" y2="79.68" stroke="#1a1a1a" stroke-width="1.1" />
<line x1="577.3" y1="70.28" x2="579.5" y2="70.28" stroke="#1a1a1a" stroke-width="1.1" />
<line x1="680.3" y1="70.28" x2="678.1" y2="70.28" stroke="#1a1a1a" stroke-width="1.1" />
<line x1="577.3" y1="60.87" x2="581.3" y2="60.87" stroke="#1a1a1a" stroke-width="1.1" />
<line x1="680.3" y1="60.87" x2="676.3" y2="60.87" stroke="#1a1a1a" stroke-width="1.1" />
<line x1="577.3" y1="51.46" x2="579.5" y2="51.46" stroke="#1a1a1a" stroke-width="1.1" />
<line x1="680.3" y1="51.46" x2="678.1" y2="51.46" stroke="#1a1a1a" stroke-width="1.1" />
<line x1="577.3" y1="42.06" x2="581.3" y2="42.06" stroke="#1a1a1a" stroke-width="1.1" />
<line x1="680.3" y1="42.06" x2="676.3" y2="42.06" stroke="#1a1a1a" stroke-width="1.1" />
<line x1="577.3" y1="32.66" x2="579.5" y2="32.66" stroke="#1a1a1a" stroke-width="1.1" />
<line x1="680.3" y1="32.66" x2="678.1" y2="32.66" stroke="#1a1a1a" stroke-width="1.1" />
<line x1="577.3" y1="23.25" x2="581.3" y2="23.25" stroke="#1a1a1a" stroke-width="1.1" />
<line x1="680.3" y1="23.25" x2="676.3" y2="23.25" stroke="#1a1a1a" stroke-width="1.1" />
<line x1="440.18" y1="216" x2="440.18" y2="212" stroke="#1a1a1a" stroke-width="1.1" />
<line x1="440.18" y1="18.5" x2="440.18" y2="22.5" stroke="#1a1a1a" stroke-width="1.1" />
<line x1="469.15" y1="216" x2="469.15" y2="212" stroke="#1a1a1a" stroke-width="1.1" />
<line x1="469.15" y1="18.5" x2="469.15" y2="22.5" stroke="#1a1a1a" stroke-width="1.1" />
<line x1="498.12" y1="216" x2="498.12" y2="212" stroke="#1a1a1a" stroke-width="1.1" />
<line x1="498.12" y1="18.5" x2="498.12" y2="22.5" stroke="#1a1a1a" stroke-width="1.1" />
<line x1="527.1" y1="216" x2="527.1" y2="212" stroke="#1a1a1a" stroke-width="1.1" />
<line x1="527.1" y1="18.5" x2="527.1" y2="22.5" stroke="#1a1a1a" stroke-width="1.1" />
<line x1="556.08" y1="216" x2="556.08" y2="212" stroke="#1a1a1a" stroke-width="1.1" />
<line x1="556.08" y1="18.5" x2="556.08" y2="22.5" stroke="#1a1a1a" stroke-width="1.1" />
<line x1="425.69" y1="216" x2="425.69" y2="213.8" stroke="#1a1a1a" stroke-width="1.1" />
<line x1="425.69" y1="18.5" x2="425.69" y2="20.7" stroke="#1a1a1a" stroke-width="1.1" />
<line x1="454.66" y1="216" x2="454.66" y2="213.8" stroke="#1a1a1a" stroke-width="1.1" />
<line x1="454.66" y1="18.5" x2="454.66" y2="20.7" stroke="#1a1a1a" stroke-width="1.1" />
<line x1="483.64" y1="216" x2="483.64" y2="213.8" stroke="#1a1a1a" stroke-width="1.1" />
<line x1="483.64" y1="18.5" x2="483.64" y2="20.7" stroke="#1a1a1a" stroke-width="1.1" />
<line x1="512.61" y1="216" x2="512.61" y2="213.8" stroke="#1a1a1a" stroke-width="1.1" />
<line x1="512.61" y1="18.5" x2="512.61" y2="20.7" stroke="#1a1a1a" stroke-width="1.1" />
<line x1="541.59" y1="216" x2="541.59" y2="213.8" stroke="#1a1a1a" stroke-width="1.1" />
<line x1="541.59" y1="18.5" x2="541.59" y2="20.7" stroke="#1a1a1a" stroke-width="1.1" />
<line x1="570.56" y1="216" x2="570.56" y2="213.8" stroke="#1a1a1a" stroke-width="1.1" />
<line x1="570.56" y1="18.5" x2="570.56" y2="20.7" stroke="#1a1a1a" stroke-width="1.1" />
<line x1="603.05" y1="216" x2="603.05" y2="212" stroke="#1a1a1a" stroke-width="1.1" />
<line x1="603.05" y1="18.5" x2="603.05" y2="22.5" stroke="#1a1a1a" stroke-width="1.1" />
<line x1="628.8" y1="216" x2="628.8" y2="212" stroke="#1a1a1a" stroke-width="1.1" />
<line x1="628.8" y1="18.5" x2="628.8" y2="22.5" stroke="#1a1a1a" stroke-width="1.1" />
<line x1="654.55" y1="216" x2="654.55" y2="212" stroke="#1a1a1a" stroke-width="1.1" />
<line x1="654.55" y1="18.5" x2="654.55" y2="22.5" stroke="#1a1a1a" stroke-width="1.1" />
<line x1="590.17" y1="216" x2="590.17" y2="213.8" stroke="#1a1a1a" stroke-width="1.1" />
<line x1="590.17" y1="18.5" x2="590.17" y2="20.7" stroke="#1a1a1a" stroke-width="1.1" />
<line x1="615.92" y1="216" x2="615.92" y2="213.8" stroke="#1a1a1a" stroke-width="1.1" />
<line x1="615.92" y1="18.5" x2="615.92" y2="20.7" stroke="#1a1a1a" stroke-width="1.1" />
<line x1="641.67" y1="216" x2="641.67" y2="213.8" stroke="#1a1a1a" stroke-width="1.1" />
<line x1="641.67" y1="18.5" x2="641.67" y2="20.7" stroke="#1a1a1a" stroke-width="1.1" />
<line x1="667.42" y1="216" x2="667.42" y2="213.8" stroke="#1a1a1a" stroke-width="1.1" />
<line x1="667.42" y1="18.5" x2="667.42" y2="20.7" stroke="#1a1a1a" stroke-width="1.1" />
<text x="406.9" y="214.65" font-size="10" text-anchor="end" font-family='"Liberation Sans", sans-serif' fill="#111" >-1.0</text>
<text x="406.9" y="195.84" font-size="10" text-anchor="end" font-family='"Liberation Sans", sans-serif' fill="#111" >-0.8</text>
<text x="406.9" y="177.03" font-size="10" text-anchor="end" font-family='"Liberation Sans", sans-serif' fill="#111" >-0.6</text>
<text x="406.9" y="158.22" font-size="10" text-anchor="end" font-family='"Liberation Sans", sans-serif' fill="#111" >-0.4</text>
<text x="406.9" y="139.41" font-size="10" text-anchor="end" font-family='"Liberation Sans", sans-serif' fill="#111" >-0.2</text>
<text x="406.9" y="120.6" font-size="10" text-anchor="end" font-family='"Liberation Sans", sans-serif' fill="#111" >0.0</text>
<text x="406.9" y="101.79" font-size="10" text-anchor="end" font-family='"Liberation Sans", sans-serif' fill="#111" >0.2</text>
<text x="406.9" y="82.98" font-size="10" text-anchor="end" font-family='"Liberation Sans", sans-serif' fill="#111" >0.4</text>
<text x="406.9" y="64.17" font-size="10" text-anchor="end" font-family='"Liberation Sans", sans-serif' fill="#111" >0.6</text>
<text x="406.9" y="45.36" font-size="10" text-anchor="end" font-family='"Liberation Sans", sans-serif' fill="#111" >0.8</text>
<text x="406.9" y="26.55" font-size="10" text-anchor="end" font-family='"Liberation Sans", sans-serif' fill="#111" >1.0</text>
<text x="411.2" y="227.9" font-size="10" text-anchor="middle" font-family='"Liberation Sans", sans-serif' fill="#111" >0.00</text>
<text x="440.18" y="227.9" font-size="10" text-anchor="middle" font-family='"Liberation Sans", sans-serif' fill="#111" >0.05</text>
<text x="469.15" y="227.9" font-size="10" text-anchor="middle" font-family='"Liberation Sans", sans-serif' fill="#111" >0.10</text>
<text x="498.12" y="227.9" font-size="10" text-anchor="middle" font-family='"Liberation Sans", sans-serif' fill="#111" >0.15</text>
<text x="527.1" y="227.9" font-size="10" text-anchor="middle" font-family='"Liberation Sans", sans-serif' fill="#111" >0.20</text>
<text x="556.08" y="227.9" font-size="10" text-anchor="middle" font-family='"Liberation Sans", sans-serif' fill="#111" >0.25</text>
<text x="577.3" y="227.9" font-size="10" text-anchor="middle" font-family='"Liberation Sans", sans-serif' fill="#111" >0</text>
<text x="603.05" y="227.9" font-size="10" text-anchor="middle" font-family='"Liberation Sans", sans-serif' fill="#111" >1</text>
<text x="628.8" y="227.9" font-size="10" text-anchor="middle" font-family='"Liberation Sans", sans-serif' fill="#111" >2</text>
<text x="654.55" y="227.9" font-size="10" text-anchor="middle" font-family='"Liberation Sans", sans-serif' fill="#111" >3</text>
<text x="680.3" y="227.9" font-size="10" text-anchor="middle" font-family='"Liberation Sans", sans-serif' fill="#111" >4</text>
<text x="492.65" y="240.5" font-size="10" text-anchor="middle" font-family='"Liberation Sans", sans-serif' fill="#111"><tspan font-weight="bold">k</tspan>-Point distance (2&#960;/&#197;)</text>
<text x="629.1" y="238.9" font-size="10.2" text-anchor="middle" font-family='"Liberation Sans", sans-serif' fill="#111" >DOS (1/eV)</text>
<text transform="translate(385.6,116.7) rotate(-90)" font-size="12" text-anchor="middle" textLength="69.5" lengthAdjust="spacingAndGlyphs" font-family='"Liberation Sans", sans-serif' fill="#111">Energy (eV)</text>
<text x="356.2" y="27.4" font-size="22.4" text-anchor="start" font-family='"Liberation Sans", sans-serif' fill="#111" >(b)</text>
<text x="412.8" y="13.9" font-size="16.5" text-anchor="middle" font-family='"Liberation Serif", serif' fill="#111" >&#915;</text>
<text x="571.9" y="13.9" font-size="16.5" text-anchor="middle" font-family='"Liberation Serif", serif' fill="#111" >&#915;</text>
<text x="480.9" y="14" font-size="16" text-anchor="middle" font-family='"Liberation Sans", sans-serif' fill="#111" >K</text>
<text x="514.5" y="14.2" font-size="16" text-anchor="middle" font-family='"Liberation Sans", sans-serif' fill="#111" >M</text>
<rect x="430.5" y="56.8" width="131.5" height="27.9" fill="#fff" stroke="#949494" stroke-width="1.3" />
<text x="440.4" y="67.8" font-size="10.2" font-family='"Liberation Sans", sans-serif' fill="#111" xml:space="preserve">C-C bond length +0.06 <tspan font-family='"Liberation Serif", serif'>&#197;</tspan></text>
<text x="440.4" y="80.2" font-size="10.2" font-family='"Liberation Sans", sans-serif' fill="#111" xml:space="preserve">C-Si bond length -0.06 <tspan font-family='"Liberation Serif", serif'>&#197;</tspan></text>
<rect x="425.4" y="122.2" width="35.2" height="15.4" fill="#fff" stroke="#949494" stroke-width="1.3" />
<text x="443" y="133.5" font-size="10" text-anchor="middle" font-family='"Liberation Sans", sans-serif' fill="#111">-0.232</text>
<rect x="496" y="122.9" width="30.6" height="15.6" fill="#fff" stroke="#949494" stroke-width="1.3" />
<text x="511.3" y="134.3" font-size="10" text-anchor="middle" font-family='"Liberation Sans", sans-serif' fill="#111">0.010</text>
<rect x="527.8" y="22.8" width="37.8" height="14.5" fill="#fff" stroke="#949494" stroke-width="1.3" />
<text x="530.3" y="33.7" font-size="10.3" textLength="28.6" lengthAdjust="spacingAndGlyphs" font-family='"Liberation Sans", sans-serif' fill="#111">g-SiC</text>
<text x="558.8" y="35.2" font-size="8.6" font-family='"Liberation Sans", sans-serif' fill="#111">3</text>
<line x1="412.5" y1="137" x2="425" y2="134.3" stroke="#222" stroke-width="0.9" />
<path d="M425,134.3 L421.47,136.9 L420.71,133.39 Z" fill="#111"/>
<line x1="481" y1="118.4" x2="494.2" y2="127.4" stroke="#222" stroke-width="0.9" />
<path d="M494.2,127.4 L489.88,126.63 L491.91,123.66 Z" fill="#111"/>
<rect x="621.5" y="60.1" width="46.9" height="30.1" fill="#fff" stroke="#949494" stroke-width="1.3" />
<line x1="624.3" y1="67.5" x2="639.8" y2="67.5" stroke="#111" stroke-width="1.3" />
<line x1="624.3" y1="81" x2="639.8" y2="81" stroke="#dc1c22" stroke-width="1.3" />
<text x="643" y="71.2" font-size="10.4" text-anchor="start" font-family='"Liberation Sans", sans-serif' fill="#111" textLength="24" lengthAdjust="spacingAndGlyphs">Total</text>
<text x="642.7" y="84.9" font-size="10.4" font-family='"Liberation Sans", sans-serif' fill="#111">p<tspan font-size="8.2" dy="3.1">z</tspan></text>
</g></svg></body></html>
